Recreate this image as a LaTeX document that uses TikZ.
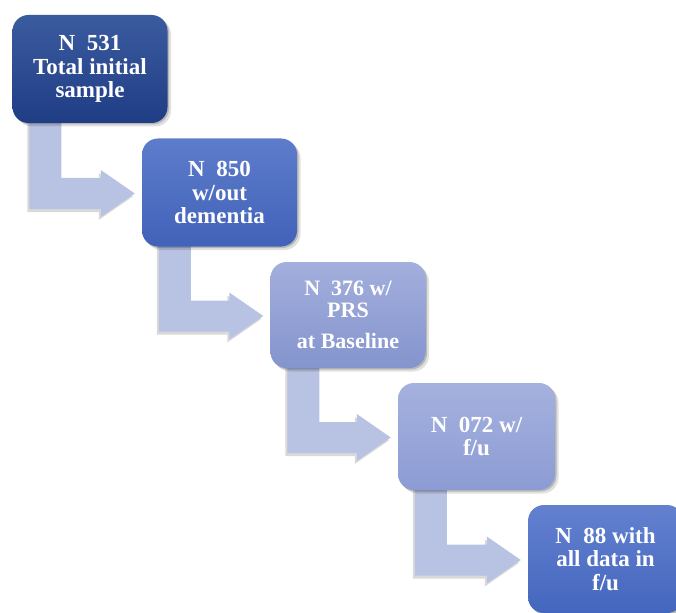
\documentclass[tikz,border=0pt]{standalone}
\usepackage{fontspec}
\setmainfont{Liberation Serif}
\usetikzlibrary{shadows,calc}
\pgfdeclarelayer{background}
\pgfsetlayers{background,main}
\definecolor{arrowc}{HTML}{B8C3E3}
\definecolor{cAt}{HTML}{3B5B9F}
\definecolor{cAb}{HTML}{1F3D85}
\definecolor{cBt}{HTML}{5E7CCB}
\definecolor{cBb}{HTML}{4062B8}
\definecolor{cCt}{HTML}{A3AFDC}
\definecolor{cCb}{HTML}{8494CD}
\definecolor{cDt}{HTML}{A5B2DF}
\definecolor{cDb}{HTML}{8C9BD3}
\definecolor{cEt}{HTML}{6381CF}
\definecolor{cEb}{HTML}{4466BE}
\tikzset{
  boxshadow/.style={drop shadow={shadow xshift=3.5pt, shadow yshift=-3.5pt, opacity=.12, fill=black},
                    drop shadow={shadow xshift=1.5pt, shadow yshift=-1.5pt, opacity=.18, fill=black}},
  box/.style={rounded corners=16pt, minimum width=155pt, minimum height=108pt, inner sep=0pt,
              text=white, align=center, font=\bfseries\fontsize{23}{23.5}\selectfont, boxshadow},
  bent/.style={fill=arrowc, draw=none,
               drop shadow={shadow xshift=-2pt, shadow yshift=-3pt, opacity=.15, fill=black}},
}
\newcommand\bentarrow[2]{%
  \path[bent] let \p1=(#1.south west), \p2=(#2.west) in
    (\x1+17pt,\y1+4pt) -- (\x1+49pt,\y1+4pt) -- (\x1+49pt,\y2+14.5pt)
    -- (\x2-41pt,\y2+14.5pt) -- (\x2-41pt,\y2+22.5pt) -- (\x2-7pt,\y2-1pt)
    -- (\x2-41pt,\y2-24.5pt) -- (\x2-41pt,\y2-16.5pt) -- (\x1+17pt,\y2-16.5pt) -- cycle;}
\begin{document}
\begin{tikzpicture}[x=1pt,y=-1pt]
\useasboundingbox (0,0) rectangle (676,612);
\begin{scope}
\clip (0,0) rectangle (676,612);
\node[box, top color=cAt, bottom color=cAb] (b1) at (90,69) {N\ \ 531\\Total initial\\sample};
\node[box, top color=cBt, bottom color=cBb] (b2) at (219.5,192.5) {N\ \ 850\\w/out\\dementia};
\node[box, top color=cCt, bottom color=cCb, minimum height=106pt, font=\bfseries\fontsize{22}{22}\selectfont] (b3) at (348,315) {N\ \ 376 w/\\PRS\\[9pt]at Baseline};
\node[box, top color=cDt, bottom color=cDb, minimum width=157pt, minimum height=107pt] (b4) at (476.5,436.5) {N\ \ 072 w/\\f/u};
\node[box, top color=cEt, bottom color=cEb] (b5) at (605.5,559) {N\ \ 88 with\\all data in\\f/u};
\begin{pgfonlayer}{background}
\bentarrow{b1}{b2}
\bentarrow{b2}{b3}
\bentarrow{b3}{b4}
\bentarrow{b4}{b5}
\end{pgfonlayer}
\end{scope}
\end{tikzpicture}
\end{document}
